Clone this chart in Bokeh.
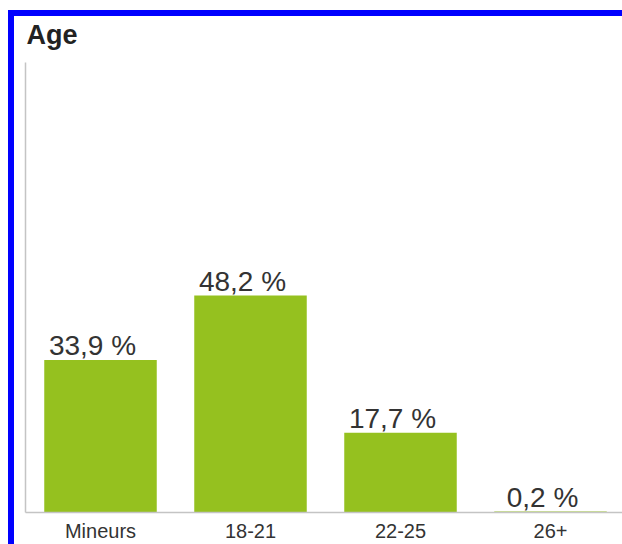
from bokeh.plotting import figure
from bokeh.models import Range1d, FixedTicker, ColumnDataSource, Title
from bokeh.core.properties import value
from bokeh.embed import file_html
from bokeh.resources import INLINE

categories = ["Mineurs", "18-21", "22-25", "26+"]
percentages = [33.9, 48.2, 17.7, 0.2]
title_text = "Age"

FONT = "Liberation Sans"

xs = [i + 0.5 for i in range(len(categories))]
labels = [f"{v:.1f}".replace(".", ",") + " %" for v in percentages]
src = ColumnDataSource(dict(x=xs, top=percentages, label=labels))

p = figure(width=614, height=534, output_backend="svg", toolbar_location=None,
           x_range=Range1d(0, 3.98), y_range=Range1d(0, 100), title=title_text,
           min_border_left=11, min_border_right=6, min_border_top=46, min_border_bottom=38)
p.styles = {"border-left": "6px solid #0000ff", "border-top": "6px solid #0000ff",
            "margin-top": "10px", "margin-left": "8px"}
p.outline_line_color = None
p.grid.visible = False
p.background_fill_color = "white"
p.border_fill_color = "white"

p.title.text_font = FONT
p.title.text_font_size = "27px"
p.title.text_font_style = "bold"
p.title.text_color = "#222222"
p.title.align = "left"
p.title.offset = 1
p.title.standoff = 0

# spacer between the title and the plot frame
p.add_layout(Title(text=" ", text_font_size="10px", standoff=0), "above")

p.vbar(x="x", top="top", width=0.75, bottom=0, source=src, color="#95c11f", line_color=None)
p.text(x="x", y="top", text="label", source=src, text_font=value(FONT), text_font_size="28px",
       text_color="#333333", text_align="center", text_baseline="alphabetic", x_offset=-8, y_offset=-14)

p.xaxis.ticker = FixedTicker(ticks=xs)
p.xaxis.major_label_overrides = {x: c for x, c in zip(xs, categories)}
p.xaxis.major_tick_line_color = None
p.xaxis.minor_tick_line_color = None
p.xaxis.major_label_text_font = FONT
p.xaxis.major_label_text_font_size = "20px"
p.xaxis.major_label_text_color = "#333333"
p.xaxis.major_label_standoff = 1
p.xaxis.axis_line_color = "#c4c4c4"
p.xaxis.axis_line_width = 1.5

p.yaxis.ticker = FixedTicker(ticks=[])
p.yaxis.major_tick_line_color = None
p.yaxis.minor_tick_line_color = None
p.yaxis.major_label_text_font_size = "0px"
p.yaxis.axis_line_color = "#c4c4c4"
p.yaxis.axis_line_width = 1.5

open("out.html", "w").write(file_html(p, INLINE))
